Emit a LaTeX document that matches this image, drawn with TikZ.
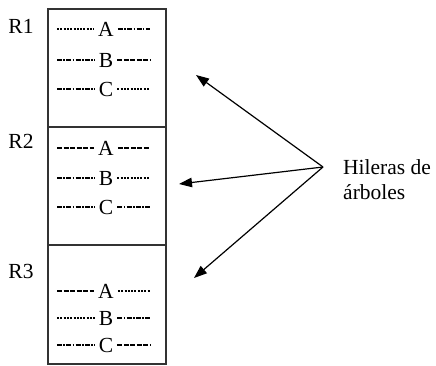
\documentclass[tikz,border=0pt]{standalone}
\usepackage{fontspec}
\setmainfont{Liberation Serif}
\usetikzlibrary{arrows.meta}

\tikzset{
  txt/.style={font=\fontsize{21.5}{25}\selectfont, inner sep=0pt},
  rowletter/.style={txt, anchor=center},
  frame/.style={draw=black!80, line width=1.2pt},
  dA/.style={line width=1.3pt, dash pattern=on 5pt off 1.5pt},
  dB/.style={line width=1.3pt, dash pattern=on 2pt off 1.3pt},
  dC/.style={line width=1.3pt, dash pattern=on 5pt off 1.4pt on 1.5pt off 1.4pt},
  pointer/.style={line width=1.2pt, -{Triangle[length=13pt,width=9.5pt]}},
}

\begin{document}
\begin{tikzpicture}[x=1pt, y=-1pt]
  \useasboundingbox (0,0) rectangle (436,366);

  % the three strips of the plot
  \draw[frame] (48,9) rectangle (166,364);
  \draw[frame] (48,127) -- (166,127);
  \draw[frame] (48,245) -- (166,245);

  % strip labels
  \node[txt, anchor=center] (R1) at (21,26) {R1};
  \node[txt, anchor=center] (R2) at (21,141) {R2};
  \node[txt, anchor=center] (R3) at (21,271) {R3};

  % tree rows: letter with a dashed line on either side
  % #1 name, #2 y, #3 letter, #4 left style, #5 right style
  \newcommand\treerow[5]{%
    \node[rowletter] (#1) at (106,#2) {#3};
    \coordinate (#1l) at (57,#2);
    \coordinate (#1r) at (150,#2);
    \draw[#4] (#1l) -- ([xshift=-4pt]#1.west);
    \draw[#5] ([xshift=4pt]#1.east) -- (#1r);
  }
  \treerow{r1a}{29}{A}{dB}{dC}
  \treerow{r1b}{60}{B}{dC}{dA}
  \treerow{r1c}{89}{C}{dC}{dB}

  \treerow{r2a}{148}{A}{dA}{dA}
  \treerow{r2b}{178}{B}{dC}{dB}
  \treerow{r2c}{207}{C}{dC}{dC}

  \treerow{r3a}{291}{A}{dA}{dB}
  \treerow{r3b}{318}{B}{dB}{dC}
  \treerow{r3c}{345}{C}{dC}{dA}

  % caption and its pointers
  \coordinate (hub) at (323,167);
  \node[txt, anchor=north west, align=left] (cap) at (343,159.5)
    {Hileras de\\árboles};
  \coordinate (t1) at (196,75);
  \coordinate (t2) at (179,184);
  \coordinate (t3) at (194,278);
  \draw[pointer] (hub) -- (t1);
  \draw[pointer] (hub) -- (t2);
  \draw[pointer] (hub) -- (t3);
\end{tikzpicture}
\end{document}
